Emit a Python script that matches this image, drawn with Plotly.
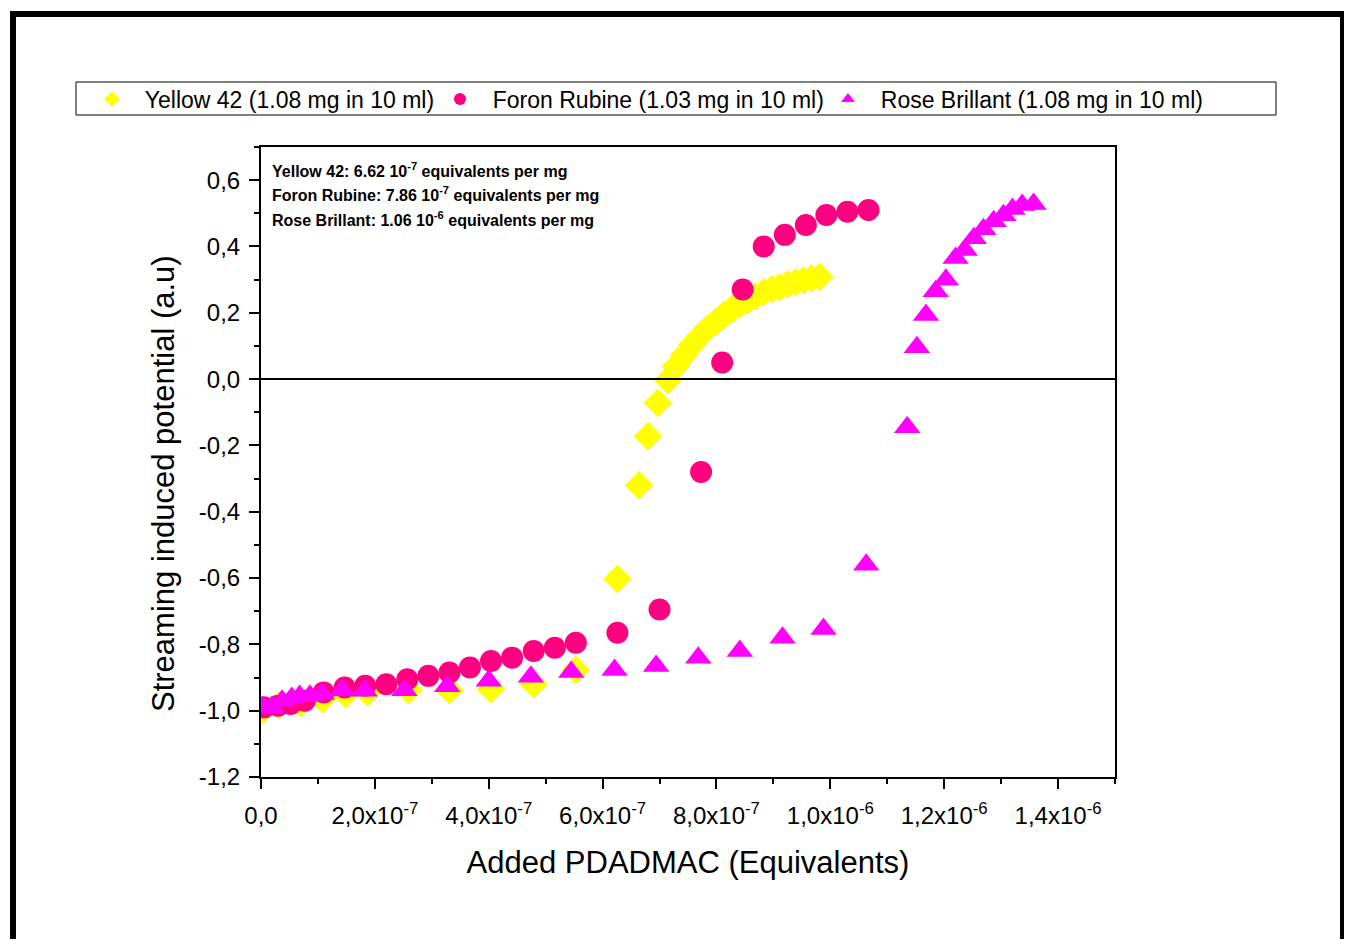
import plotly.graph_objects as go

# ---------------- data ----------------
yellow_x = [0.3e-8, 3.15e-8, 7.0e-8, 1.08e-7, 1.49e-7, 1.87e-7, 2.59e-7, 3.31e-7, 4.04e-7, 4.79e-7,
            5.53e-7, 6.26e-7, 6.64e-7, 6.80e-7, 6.97e-7,
            7.15e-7, 7.29e-7, 7.43e-7, 7.57e-7, 7.71e-7, 7.85e-7, 7.99e-7, 8.13e-7, 8.27e-7, 8.41e-7,
            8.55e-7, 8.69e-7, 8.83e-7, 8.97e-7, 9.11e-7, 9.25e-7, 9.39e-7, 9.53e-7, 9.67e-7, 9.81e-7]
yellow_y = [-0.998, -0.983, -0.977, -0.965, -0.950, -0.944, -0.938, -0.938, -0.935, -0.920,
            -0.877, -0.603, -0.320, -0.172, -0.072,
            -0.003, 0.039, 0.072, 0.103, 0.130, 0.154, 0.172, 0.193, 0.211, 0.226,
            0.238, 0.250, 0.262, 0.271, 0.277, 0.286, 0.292, 0.298, 0.304, 0.308]

foron_x = [0.5e-8, 2.97e-8, 5.2e-8, 7.7e-8, 1.10e-7, 1.47e-7, 1.83e-7, 2.20e-7, 2.57e-7, 2.94e-7,
           3.31e-7, 3.67e-7, 4.04e-7, 4.41e-7, 4.79e-7, 5.16e-7, 5.53e-7, 6.26e-7, 7.00e-7, 7.73e-7,
           8.10e-7, 8.46e-7, 8.83e-7, 9.20e-7, 9.57e-7, 9.93e-7, 1.030e-6, 1.067e-6]
foron_y = [-0.990, -0.985, -0.980, -0.970, -0.945, -0.930, -0.925, -0.920, -0.905, -0.895,
           -0.885, -0.870, -0.850, -0.840, -0.820, -0.810, -0.795, -0.765, -0.695, -0.280,
           0.050, 0.270, 0.400, 0.435, 0.465, 0.495, 0.505, 0.510]

rose_x = [0.35e-8, 1.9e-8, 3.7e-8, 5.4e-8, 6.8e-8, 8.6e-8, 1.07e-7, 1.43e-7, 1.82e-7, 2.52e-7,
          3.27e-7, 4.00e-7, 4.74e-7, 5.45e-7, 6.21e-7, 6.94e-7, 7.68e-7, 8.41e-7, 9.16e-7, 9.88e-7,
          1.063e-6, 1.135e-6, 1.152e-6, 1.168e-6, 1.185e-6, 1.203e-6, 1.220e-6, 1.236e-6, 1.252e-6,
          1.269e-6, 1.287e-6, 1.304e-6, 1.320e-6, 1.337e-6, 1.357e-6]
rose_y = [-0.990, -0.989, -0.970, -0.962, -0.956, -0.955, -0.950, -0.938, -0.940, -0.938,
          -0.926, -0.910, -0.898, -0.883, -0.877, -0.865, -0.840, -0.820, -0.780, -0.754,
          -0.560, -0.145, 0.096, 0.193, 0.265, 0.300, 0.365, 0.389, 0.425,
          0.452, 0.476, 0.494, 0.513, 0.525, 0.528]

series_names = ["Yellow 42 (1.08 mg in 10 ml)",
                "Foron Rubine (1.03 mg in 10 ml)",
                "Rose Brillant (1.08 mg in 10 ml)"]

x_tickvals = [0, 2e-7, 4e-7, 6e-7, 8e-7, 1.0e-6, 1.2e-6, 1.4e-6]
x_ticktext = ["0,0", "2,0x10<sup>-7</sup>", "4,0x10<sup>-7</sup>", "6,0x10<sup>-7</sup>",
              "8,0x10<sup>-7</sup>", "1,0x10<sup>-6</sup>", "1,2x10<sup>-6</sup>", "1,4x10<sup>-6</sup>"]
y_tickvals = [-1.2, -1.0, -0.8, -0.6, -0.4, -0.2, 0.0, 0.2, 0.4, 0.6]
y_ticktext = ["-1,2", "-1,0", "-0,8", "-0,6", "-0,4", "-0,2", "0,0", "0,2", "0,4", "0,6"]

x_title = "Added PDADMAC (Equivalents)"
y_title = "Streaming induced potential (a.u)"

notes = ["Yellow 42: 6.62 10<sup>-7</sup> equivalents per mg",
         "Foron Rubine: 7.86 10<sup>-7</sup> equivalents per mg",
         "Rose Brillant: 1.06 10<sup>-6</sup> equivalents per mg"]

FONT = "Liberation Sans, Arial, sans-serif"
NB = "\u00a0"

fig = go.Figure()
fig.add_trace(go.Scatter(x=yellow_x, y=yellow_y, mode="markers", name=NB * 2 + series_names[0],
                         legend="legend",
                         marker=dict(symbol="diamond", size=22, color="#FFFF00", line=dict(width=0))))
fig.add_trace(go.Scatter(x=foron_x, y=foron_y, mode="markers", name=NB * 2 + series_names[1],
                         legend="legend2",
                         marker=dict(symbol="circle", size=22, color="#FF0080", line=dict(width=0))))
fig.add_trace(go.Scatter(x=rose_x, y=rose_y, mode="markers", name=NB * 2 + series_names[2],
                         legend="legend3",
                         marker=dict(symbol="triangle-up", size=23, color="#FF00FF", line=dict(width=0))))

# page is rendered with an 8px body margin; work in page pixels
OFF = 8
PW, PH = 1352, 947
W, H = PW - 2 * OFF, PH - 2 * OFF
L, R, T, B = 261, 1115, 147, 777          # plot area in page pixels
pw, ph = R - L, B - T

def px(xp):
    return (xp - L) / pw

def py(yp):
    return (B - yp) / ph

shapes = [
    dict(type="line", xref="paper", yref="y", x0=0, x1=1, y0=0, y1=0,
         line=dict(color="black", width=2)),
    dict(type="rect", xref="paper", yref="paper", x0=px(13), x1=px(1343), y0=py(990), y1=py(14),
         line=dict(color="black", width=6), layer="above"),
    dict(type="rect", xref="paper", yref="paper", x0=px(76), x1=px(1276), y0=py(115), y1=py(82),
         line=dict(color="black", width=1), layer="above"),
]

annotations = []
for i, t in enumerate(notes):
    annotations.append(dict(text="<b>" + t + "</b>", xref="paper", yref="paper",
                            x=px(270), y=py(170 + 24.5 * i),
                            xanchor="left", yanchor="middle", showarrow=False,
                            font=dict(family=FONT, size=16, color="black")))
# y-axis title (placed like the reference, slightly below the axis centre)
annotations.append(dict(text=y_title, xref="paper", yref="paper", x=px(163), y=py(484),
                        xanchor="center", yanchor="middle", textangle=-90, showarrow=False,
                        font=dict(family=FONT, size=31, color="black")))

axis_common = dict(showline=True, linecolor="black", linewidth=2, mirror=True,
                   ticks="outside", tickcolor="black", tickwidth=2, ticklen=10,
                   showgrid=False, zeroline=False,
                   tickfont=dict(family=FONT, size=24, color="black"))

def legend_at(marker_px):
    return dict(orientation="h", x=px(marker_px - 20), y=py(99), xanchor="left", yanchor="middle",
                font=dict(family=FONT, size=23, color="black"),
                bgcolor="rgba(0,0,0,0)", borderwidth=0, itemsizing="constant")

fig.update_layout(
    width=W, height=H,
    margin=dict(l=L - OFF, r=W - (R - OFF), t=T - OFF, b=H - (B - OFF)),
    paper_bgcolor="white", plot_bgcolor="white",
    font=dict(family=FONT, color="black"),
    shapes=shapes, annotations=annotations,
    showlegend=True,
    legend=legend_at(112),
    legend2=legend_at(460),
    legend3=legend_at(848),
    xaxis=dict(range=[0, 1.5e-6], tickmode="array", tickvals=x_tickvals, ticktext=x_ticktext,
               minor=dict(tickmode="linear", tick0=0, dtick=1e-7, ticks="outside", ticklen=5,
                          tickwidth=2, tickcolor="black"),
               title=dict(text=x_title, standoff=24,
                          font=dict(family=FONT, size=31, color="black")),
               ticklabelstandoff=6,
               **axis_common),
    yaxis=dict(range=[-1.2, 0.7], tickmode="array", tickvals=y_tickvals, ticktext=y_ticktext,
               minor=dict(tickmode="linear", tick0=0, dtick=0.1, ticks="outside", ticklen=5,
                          tickwidth=2, tickcolor="black"),
               ticklabelstandoff=4,
               **axis_common),
)

fig.write_html("out.html")
